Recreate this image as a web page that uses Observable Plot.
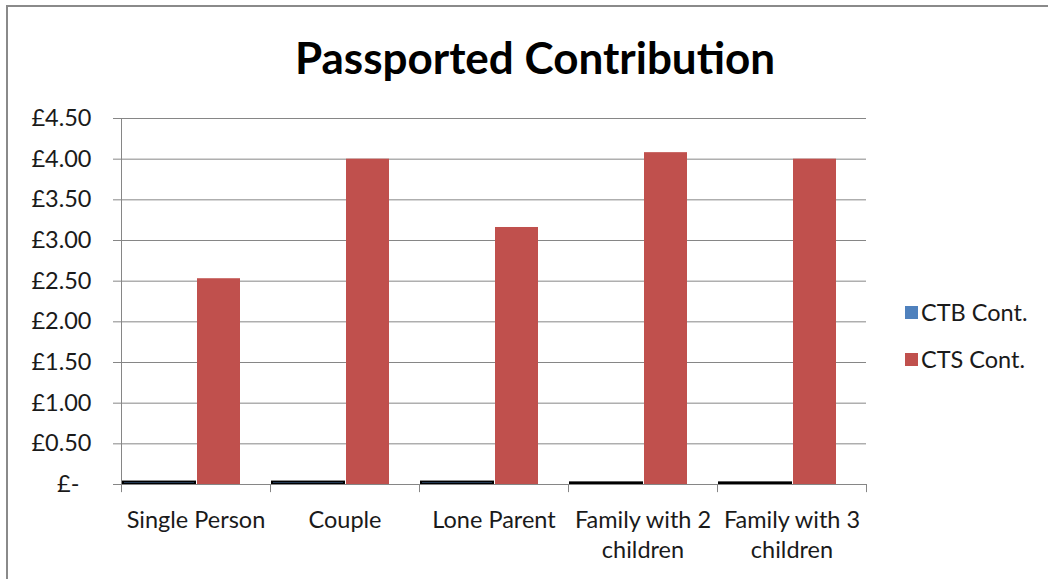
<!DOCTYPE html>
<html>
<head>
<meta charset="utf-8">
<script src="https://cdn.jsdelivr.net/npm/d3@7"></script>
<script src="https://cdn.jsdelivr.net/npm/@observablehq/plot@0.6"></script>
<style>
  html, body { margin: 0; padding: 0; background: #fff; }
  #wrap { position: relative; width: 1048px; height: 579px; overflow: hidden; font-family: Lato, "Open Sans", sans-serif; }
  #frame { position: absolute; left: 6px; top: 5px; width: 1060px; height: 600px; border-left: 2px solid #8a8a8a; border-top: 2px solid #8a8a8a; box-sizing: border-box; }
  #title { position: absolute; left: 0; width: 1070px; top: 29px; text-align: center; font-weight: bold; font-size: 44px; color: #000; line-height: 56px; }
  #chart { position: absolute; left: 0; top: 90px; }
  #legend { position: absolute; left: 905px; top: 298px; font-size: 23.5px; color: #1a1a1a; }
  .item { position: absolute; white-space: nowrap; display: flex; align-items: center; }
  .sw { width: 13px; height: 13px; margin-right: 3px; }
</style>
</head>
<body>
<div id="wrap">
  <div id="frame"></div>
  <div id="title">Passported Contribution</div>
  <div id="chart"></div>
  <div id="legend"></div>
</div>
<script>
const categories = ["Single Person", "Couple", "Lone Parent", "Family with 2\nchildren", "Family with 3\nchildren"];
const seriesNames = ["CTB Cont.", "CTS Cont."];
const ctbValues = [0.03, 0.03, 0.03, 0.02, 0.02];
const ctsValues = [2.53, 4.00, 3.16, 4.08, 4.00];
const yTicks = [0, 0.5, 1, 1.5, 2, 2.5, 3, 3.5, 4, 4.5];
const seriesColors = ["#4F81BD", "#C0504D"];

const ctb = categories.map((c, i) => ({category: c, value: ctbValues[i], series: seriesNames[0]}));
const cts = categories.map((c, i) => ({category: c, value: ctsValues[i], series: seriesNames[1]}));

const W = 1048, H = 489;
const mL = 121, mR = 182, mT = 28, mB = 95;
const band = (W - mL - mR) / categories.length;

const fmt = v => v === 0 ? "£-\u00a0\u00a0" : "£" + v.toFixed(2);

const chart = Plot.plot({
  width: W,
  height: H,
  marginLeft: mL,
  marginRight: mR,
  marginTop: mT,
  marginBottom: mB,
  style: {fontFamily: "Lato, 'Open Sans', sans-serif", fontSize: "23.5px", color: "#1a1a1a", background: "transparent"},
  x: {domain: categories, padding: 0, align: 0},
  y: {domain: [0, 4.5]},
  color: {domain: seriesNames, range: seriesColors},
  marks: [
    Plot.gridY(yTicks, {stroke: "#868686", strokeOpacity: 1, strokeWidth: 1}),
    Plot.rectY(ctb, {x: "category", y: "value", fill: "series", stroke: "#000", strokeWidth: 2,
      insetLeft: 2, insetRight: band - 74}),
    Plot.rectY(cts, {x: "category", y: "value", fill: "series",
      insetLeft: 76, insetRight: band - 119}),
    Plot.ruleY([0], {stroke: "#868686"}),
    Plot.ruleX([0], {x: () => categories[0], dx: -band / 2, y1: 4.5, y2: -0.1, stroke: "#868686"}),
    Plot.ruleX(categories.slice(1), {x: d => d, dx: -band / 2, y1: 0, y2: -0.1, stroke: "#868686"}),
    Plot.ruleX([0], {x: () => categories[categories.length - 1], dx: band / 2, y1: 0, y2: -0.1, stroke: "#868686"}),
    Plot.axisY(yTicks, {tickFormat: fmt, tickSize: 8, tickPadding: 22, stroke: "#868686", fill: "#1a1a1a", label: null, fontSize: 23.5}),
    Plot.axisX({tickSize: 0, tickPadding: 22, lineHeight: 1.27, fill: "#1a1a1a", label: null, fontSize: 23.5})
  ]
});
document.getElementById("chart").appendChild(chart);

const legend = document.getElementById("legend");
seriesNames.forEach((name, i) => {
  const it = document.createElement("div");
  it.className = "item";
  it.style.top = (i * 47) + "px";
  it.innerHTML = `<span class="sw" style="background:${seriesColors[i]}"></span><span>${name}</span>`;
  legend.appendChild(it);
});
</script>
</body>
</html>
